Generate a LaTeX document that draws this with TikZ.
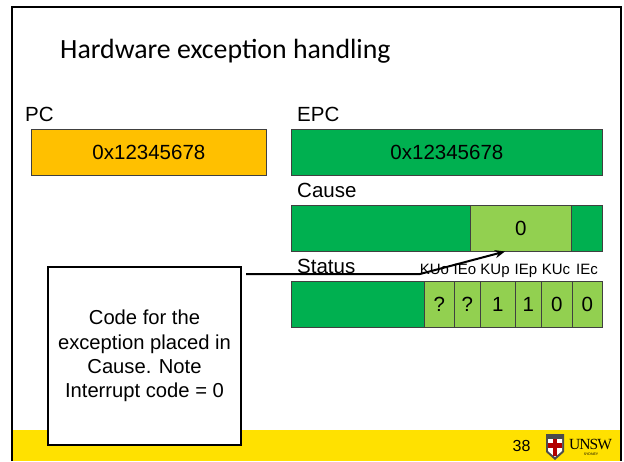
\documentclass[tikz,border=0pt]{standalone}
\usepackage{fontspec}
\usetikzlibrary{arrows.meta}
\setmainfont{Liberation Sans}
\newfontfamily\titlefont{Carlito}
\newfontfamily\logofont{Liberation Serif}
\definecolor{gdark}{HTML}{00B050}
\definecolor{glight}{HTML}{92D050}
\definecolor{amber}{HTML}{FFC000}
\definecolor{band}{HTML}{FFE100}
\tikzset{
  reg/.style={draw=black!75,line width=0.8pt,inner sep=0pt,anchor=north west,font=\fontsize{20.5}{24}\selectfont},
  lbl/.style={inner sep=0pt,anchor=base west,font=\fontsize{20.5}{24}\selectfont},
  bit/.style={inner sep=0pt,anchor=base,font=\fontsize{15}{18}\selectfont}
}
\begin{document}
\begin{tikzpicture}[x=1pt,y=-1pt]
\useasboundingbox (0,0) rectangle (624,461);
\fill[white] (0,0) rectangle (624,461);
\fill[band] (11,430) rectangle (620,461);
\draw[line width=2pt] (12,461) -- (12,7) -- (621,7) -- (621,461);
\node[inner sep=0pt,anchor=base west,font=\titlefont\fontsize{27.8}{32}\selectfont] (title) at (60,58) {Hardware exception handling};
\node[lbl] (pcl) at (25,121) {PC};
\node[lbl] (epcl) at (297,121) {EPC};
\node[lbl] (causel) at (297,197) {Cause};
\node[lbl] (statusl) at (297,273) {Status};
\node[reg,fill=amber,minimum width=235pt,minimum height=46pt] (pc) at (31,129) {0x12345678};
\node[reg,fill=gdark,minimum width=311pt,minimum height=46pt] (epc) at (291,129) {0x12345678};
\node[reg,fill=gdark,minimum width=311pt,minimum height=46pt] (cause) at (291,205) {};
\node[reg,fill=glight,minimum width=101pt,minimum height=46pt] (code) at (470,205) {0};
\node[reg,fill=gdark,minimum width=311pt,minimum height=46pt] (status) at (291,281) {};
\node[reg,fill=glight,minimum width=30pt,minimum height=46pt] (b5) at (424,281) {?};
\node[reg,fill=glight,minimum width=26pt,minimum height=46pt] (b4) at (454,281) {?};
\node[reg,fill=glight,minimum width=35pt,minimum height=46pt] (b3) at (480,281) {1};
\node[reg,fill=glight,minimum width=26pt,minimum height=46pt] (b2) at (515,281) {1};
\node[reg,fill=glight,minimum width=31pt,minimum height=46pt] (b1) at (541,281) {0};
\node[reg,fill=glight,minimum width=30pt,minimum height=46pt] (b0) at (572,281) {0};
\node[bit] (kuo) at (434.5,274) {KUo};
\node[bit] (ieo) at (465,274) {IEo};
\node[bit] (kup) at (495,274) {KUp};
\node[bit] (iep) at (526,274) {IEp};
\node[bit] (kuc) at (556,274) {KUc};
\node[bit] (iec) at (587,274) {IEc};
\node[draw=black,line width=2pt,fill=white,inner sep=0pt,anchor=north west,minimum width=193pt,minimum height=178pt,align=center,font=\fontsize{20.2}{24.4}\selectfont] (note) at (47,266) {Code for the\\exception placed in\\Cause. Note\\Interrupt code = 0};
\coordinate (start) at (246,274);
\coordinate (bend) at (420,274);
\coordinate (tip) at (505,251.5);
\draw[line width=2pt,-{Stealth[length=10pt,width=8pt]}] (start) -- (bend) -- (tip);
\node[inner sep=0pt,anchor=base,font=\fontsize{16}{18}\selectfont] (page) at (521.5,451) {38};
\fill[black!70] (546,434) -- (564,434) -- (564,452) -- (555,460) -- (546,452) -- cycle;
\fill[white] (548,439) -- (562,439) -- (562,451) -- (555,457) -- (548,451) -- cycle;
\fill[red!70!black] (553,439) rectangle (557,456);
\fill[red!70!black] (548,443) rectangle (562,448);
\node[inner sep=0pt,anchor=base west,font=\logofont\fontsize{15.5}{18}\selectfont] (unsw) at (569,449) {\addfontfeature{LetterSpace=-6}UNSW};
\node[inner sep=0pt,anchor=base,font=\fontsize{3.5}{4}\selectfont] (syd) at (591,455) {SYDNEY};
\end{tikzpicture}
\end{document}
